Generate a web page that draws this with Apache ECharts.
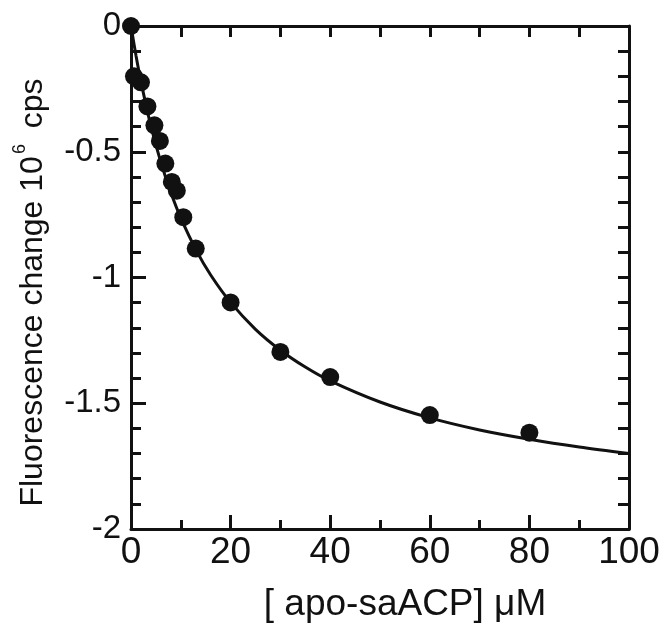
<!DOCTYPE html>
<html>
<head>
<meta charset="utf-8">
<script src="https://cdn.jsdelivr.net/npm/echarts@6/dist/echarts.min.js"></script>
<style>
html,body{margin:0;padding:0;background:#fff;}
#chart{width:670px;height:628px;}
</style>
</head>
<body>
<div id="chart"></div>
<script>
// Measured points: [apo-saACP] (µM) vs fluorescence change (10^6 cps)
const concX = [0, 0.6, 2, 3.3, 4.7, 5.8, 6.9, 8.2, 9.2, 10.5, 13, 20, 30, 40, 60, 80];
const signalY = [0, -0.2, -0.224, -0.32, -0.395, -0.457, -0.547, -0.62, -0.655, -0.76, -0.885, -1.099, -1.296, -1.396, -1.547, -1.617];
// Fitted curve
const fitX = [0, 1, 2, 4, 6, 8, 10, 13, 16, 20, 25, 30, 35, 40, 50, 60, 70, 80, 90, 100];
const fitY = [0, -0.117, -0.221, -0.398, -0.542, -0.662, -0.763, -0.888, -0.99, -1.099, -1.206, -1.289, -1.356, -1.411, -1.495, -1.558, -1.606, -1.643, -1.674, -1.7];
const xTicks = [0, 20, 40, 60, 80, 100];
const yTicks = [0, -0.5, -1, -1.5, -2];

const black = '#111';
const font = 'Liberation Sans, Arial, Helvetica, sans-serif';

const chart = echarts.init(document.getElementById('chart'), null, {renderer: 'canvas'});
const option = {
  animation: false,
  backgroundColor: '#fff',
  grid: {left: 131, right: 41, top: 26, bottom: 97, containLabel: false},
  xAxis: [{
    type: 'value', position: 'bottom',
    min: xTicks[0], max: xTicks[xTicks.length - 1], interval: 20,
    axisLine: {onZero: false, lineStyle: {color: black, width: 3}},
    axisTick: {inside: true, length: 14, lineStyle: {color: black, width: 3}},
    minorTick: {show: true, splitNumber: 2, length: 9, lineStyle: {color: black, width: 3}},
    splitLine: {show: false},
    axisLabel: {color: black, fontSize: 37, fontFamily: font, margin: 5},
    name: '[ apo-saACP] μM', nameLocation: 'middle', nameGap: 57,
    nameTextStyle: {color: black, fontSize: 37, fontFamily: font, padding: [0, 0, 0, 50]}
  }, {
    type: 'value', position: 'top',
    min: 0, max: 100, interval: 10,
    axisLine: {onZero: false, lineStyle: {color: black, width: 3}},
    axisTick: {inside: true, length: 11, lineStyle: {color: black, width: 3}},
    axisLabel: {show: false}, splitLine: {show: false}
  }],
  yAxis: [{
    type: 'value', position: 'left',
    min: yTicks[yTicks.length - 1], max: yTicks[0], interval: 0.5,
    axisLine: {onZero: false, lineStyle: {color: black, width: 3}},
    axisTick: {inside: true, length: 15, lineStyle: {color: black, width: 3}},
    minorTick: {show: true, splitNumber: 5, length: 10, lineStyle: {color: black, width: 3}},
    splitLine: {show: false},
    axisLabel: {color: black, fontSize: 33, fontFamily: font, margin: 10},
    name: '{a|Fluorescence change 10}{s|6}{a| cps}',
    nameLocation: 'middle', nameRotate: 90, nameGap: 82,
    nameTextStyle: {
      color: black, fontSize: 32, fontFamily: font, padding: [0, 30, 0, 0],
      rich: {
        a: {fontSize: 32, fontFamily: font, color: black, lineHeight: 38, verticalAlign: 'bottom'},
        s: {fontSize: 18, fontFamily: font, color: black, lineHeight: 38, verticalAlign: 'top', padding: [0, 7, 0, 2]}
      }
    }
  }, {
    type: 'value', position: 'right',
    min: -2, max: 0, interval: 0.1,
    axisLine: {onZero: false, lineStyle: {color: black, width: 3}},
    axisTick: {inside: true, length: 11, lineStyle: {color: black, width: 3}},
    axisLabel: {show: false}, splitLine: {show: false}
  }],
  series: [{
    type: 'line', xAxisIndex: 0, yAxisIndex: 0,
    data: fitX.map((x, i) => [x, fitY[i]]),
    smooth: 0.3, showSymbol: false, symbol: 'none',
    lineStyle: {color: black, width: 3}, z: 3
  }, {
    type: 'scatter', xAxisIndex: 0, yAxisIndex: 0,
    data: concX.map((x, i) => [x, signalY[i]]),
    symbol: 'circle', symbolSize: 18, clip: false,
    itemStyle: {color: black, opacity: 1}, z: 5
  }]
};
chart.setOption(option);
</script>
</body>
</html>
